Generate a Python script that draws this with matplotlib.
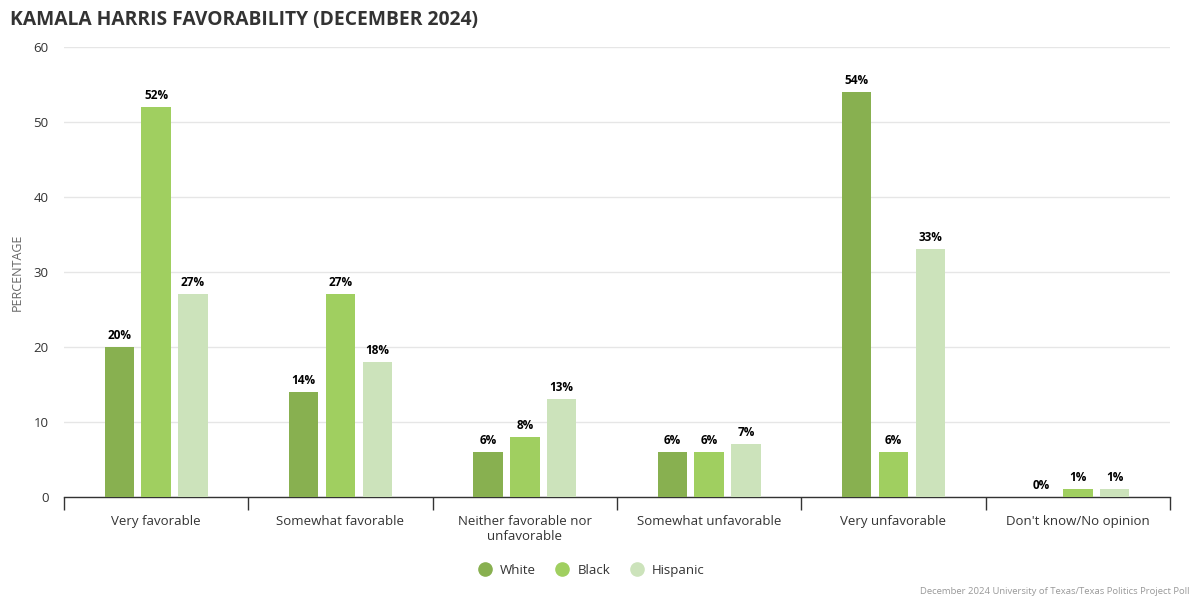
import matplotlib
matplotlib.use("Agg")
import matplotlib.pyplot as plt
import numpy as np
from matplotlib.lines import Line2D

plt.rcParams['font.family'] = ['Open Sans', 'DejaVu Sans']

categories = ["Very favorable", "Somewhat favorable", "Neither favorable nor\nunfavorable",
              "Somewhat unfavorable", "Very unfavorable", "Don't know/No opinion"]
series_names = ["White", "Black", "Hispanic"]
white = [20, 14, 6, 6, 54, 0]
black = [52, 27, 8, 6, 6, 1]
hispanic = [27, 18, 13, 7, 33, 1]
colors = ["#88b050", "#a0cf60", "#cce3bb"]
yticks = [0, 10, 20, 30, 40, 50, 60]

fig = plt.figure(figsize=(12, 6), dpi=100)
ax = fig.add_axes([0.0533, 0.1717, 0.9217, 0.75])

x = np.arange(len(categories))
offsets = [-0.2, 0.0, 0.2]
width = 0.16
for vals, off, col in zip([white, black, hispanic], offsets, colors):
    bars = ax.bar(x + off, vals, width=width, color=col, zorder=3)
    for b, v in zip(bars, vals):
        ax.text(b.get_x() + b.get_width() / 2, v + 0.7, f"{v}%", ha="center", va="bottom",
                fontsize=8.5, fontweight="bold", color="#000000", zorder=4)

ax.set_xlim(-0.5, len(categories) - 0.5)
ax.set_ylim(0, 60)
ax.set_yticks(yticks)
ax.set_yticklabels([str(t) for t in yticks], fontsize=9.5, color="#333333")
ax.yaxis.grid(True, color="#e6e6e6", linewidth=1, zorder=0)
ax.set_axisbelow(True)
ax.tick_params(axis="y", length=0, pad=11)

ax.set_xticks(x)
ax.set_xticklabels(categories, fontsize=9.5, color="#333333", linespacing=1.2)
ax.tick_params(axis="x", length=0, pad=13)
ax.set_xticks(np.arange(-0.5, len(categories) + 0.5, 1.0), minor=True)
ax.tick_params(axis="x", which="minor", length=9, width=1, color="#333333")

for s in ["top", "right", "left"]:
    ax.spines[s].set_visible(False)
ax.spines["bottom"].set_color("#333333")
ax.spines["bottom"].set_linewidth(1)

ax.set_ylabel("PERCENTAGE", fontsize=9, color="#666666", labelpad=7)

fig.text(0.008, 0.967, "KAMALA HARRIS FAVORABILITY (DECEMBER 2024)", fontsize=13.9,
         fontweight="bold", color="#333333", ha="left", va="center")

handles = [Line2D([0], [0], marker="o", linestyle="", markersize=9.5, markerfacecolor=c,
                  markeredgecolor=c) for c in colors]
fig.legend(handles, series_names, loc="center", bbox_to_anchor=(0.49, 0.049), ncol=3,
           frameon=False, fontsize=9.5, handletextpad=0.15, columnspacing=1.0,
           labelcolor="#333333")

fig.text(0.991, 0.015, "December 2024 University of Texas/Texas Politics Project Poll",
         fontsize=6.8, color="#999999", ha="right", va="center")

fig.savefig("out.png", dpi=100)
